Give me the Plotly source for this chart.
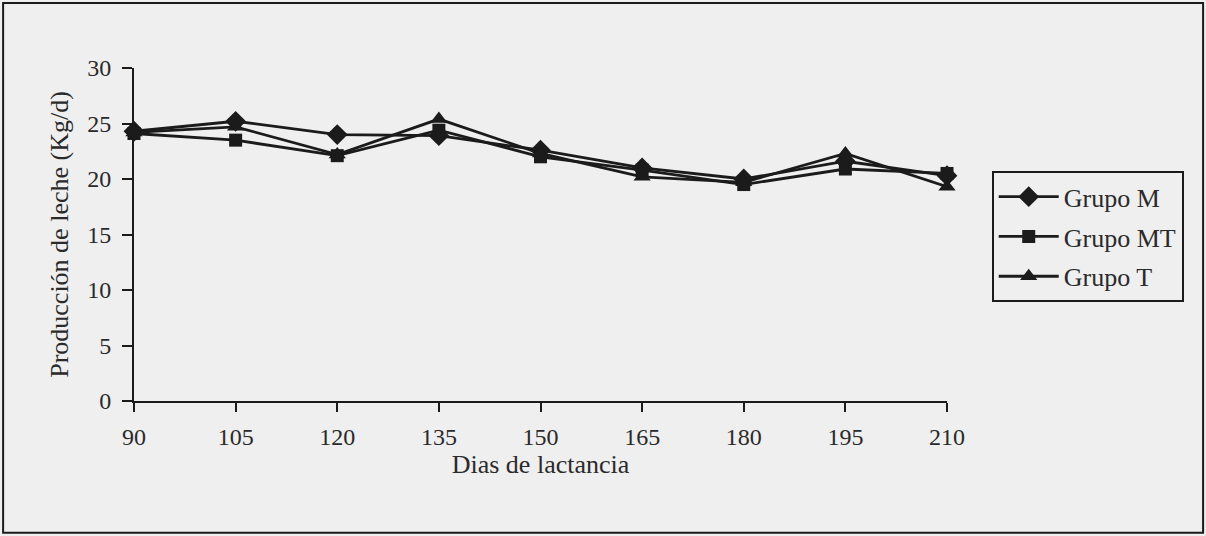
import plotly.graph_objects as go

# Días de lactancia y producción diaria de leche (Kg/d) por grupo
dias = [90, 105, 120, 135, 150, 165, 180, 195, 210]
grupo_m = [24.3, 25.2, 24.0, 23.9, 22.6, 21.0, 20.0, 21.6, 20.3]
grupo_mt = [24.1, 23.5, 22.1, 24.4, 22.0, 20.8, 19.5, 20.9, 20.5]
grupo_t = [24.2, 24.7, 22.2, 25.4, 22.3, 20.2, 19.7, 22.3, 19.3]

series = [
    ("Grupo M", grupo_m, "diamond", 16),
    ("Grupo MT", grupo_mt, "square", 13),
    ("Grupo T", grupo_t, "triangle-up", 15),
]

ink = "#1b1b1b"
bg = "#efefef"
serif = "Liberation Serif, Times New Roman, serif"

fig = go.Figure()
for name, vals, sym, size in series:
    fig.add_trace(go.Scatter(
        x=dias, y=vals, name=name, legendgroup=name, mode="lines+markers",
        line=dict(color=ink, width=2.8),
        marker=dict(symbol=sym, size=size, color=ink),
        cliponaxis=False,
    ))

fig.update_layout(
    width=1206, height=536,
    margin=dict(l=134, r=259, t=68, b=135),
    paper_bgcolor=bg, plot_bgcolor=bg,
    font=dict(family=serif, size=24, color="#2a2a2a"),
    showlegend=True,
    legend=dict(
        x=1.055, y=0.69, xanchor="left", yanchor="top",
        bordercolor=ink, borderwidth=2, bgcolor=bg,
        font=dict(size=26), itemwidth=60, tracegroupgap=3,
    ),
    xaxis=dict(
        range=[90, 210], tickvals=dias, showgrid=False, zeroline=False,
        showline=True, linecolor=ink, linewidth=2,
        ticks="outside", ticklen=9, tickcolor=ink, tickwidth=2,
        ticklabelstandoff=4,
        title=dict(text="Dias de lactancia", standoff=0, font=dict(size=26)),
    ),
    yaxis=dict(
        range=[0, 30], tickvals=[0, 5, 10, 15, 20, 25, 30], showgrid=False,
        zeroline=False, showline=True, linecolor=ink, linewidth=2,
        ticks="outside", ticklen=10, tickcolor=ink, tickwidth=2,
        ticklabelstandoff=6,
        title=dict(text="Producción de leche (Kg/d)", standoff=11, font=dict(size=26)),
    ),
    shapes=[dict(
        type="rect", xref="paper", yref="paper",
        x0=-0.161, x1=1.315, y0=-0.396, y1=1.195,
        line=dict(color=ink, width=2),
    )],
)

fig.write_html("out.html")
